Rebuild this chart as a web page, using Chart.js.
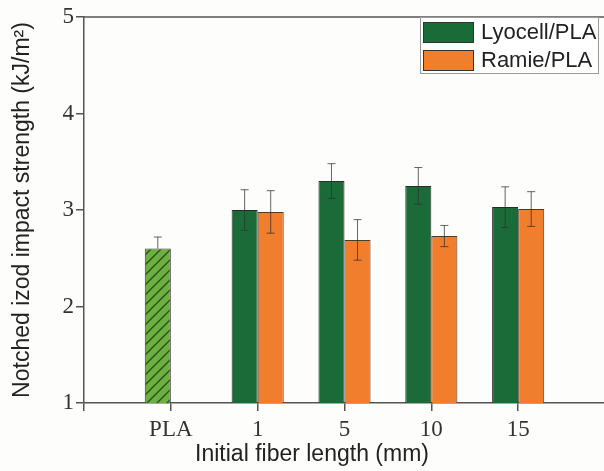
<!DOCTYPE html>
<html>
<head>
<meta charset="utf-8">
<script src="https://cdn.jsdelivr.net/npm/chart.js@4.4.1/dist/chart.umd.min.js"></script>
<style>
  html, body { margin: 0; padding: 0; background: #fdfdfb; overflow: hidden; }
  #wrap { width: 610px; height: 471px; }
</style>
</head>
<body>
<div id="wrap"><canvas id="c" width="610" height="471"></canvas></div>
<script>
// ---- data ----
const categories = ['PLA', '1', '5', '10', '15'];
const fiberLengths = ['1', '5', '10', '15'];
const plaValue = 2.60;
const plaErr = 0.12;
const lyocell = [3.00, 3.30, 3.25, 3.03];
const lyocellErr = [0.21, 0.18, 0.19, 0.21];
const ramie = [2.98, 2.69, 2.73, 3.01];
const ramieErr = [0.22, 0.21, 0.11, 0.18];
const yTicks = [1, 2, 3, 4, 5];
const xTitle = 'Initial fiber length (mm)';
const yTitle = 'Notched izod impact strength (kJ/m\u00B2)';

// axis labels: empty slot on each side of the categories
const axisLabels = [''].concat(categories, ['']);
function place(values, cats) {
  return axisLabels.map(l => { const i = cats.indexOf(l); return (i >= 0 && l !== '') ? values[i] : null; });
}
const plaData = place([plaValue], ['PLA']);
const plaErrData = place([plaErr], ['PLA']);
const lyoData = place(lyocell, fiberLengths);
const lyoErrData = place(lyocellErr, fiberLengths);
const ramData = place(ramie, fiberLengths);
const ramErrData = place(ramieErr, fiberLengths);

// hatch pattern for PLA
function hatch() {
  const s = 10, p = document.createElement('canvas');
  p.width = s; p.height = s;
  const g = p.getContext('2d');
  g.fillStyle = '#6cb13f'; g.fillRect(0, 0, s, s);
  g.strokeStyle = '#2d4d1c'; g.lineWidth = 1.4;
  g.beginPath();
  g.moveTo(0, s); g.lineTo(s, 0);
  g.moveTo(-s/2, s/2); g.lineTo(s/2, -s/2);
  g.moveTo(s/2, s*1.5); g.lineTo(s*1.5, s/2);
  g.stroke();
  return g.createPattern(p, 'repeat');
}

const axisColor = '#555';
const errorBars = {
  id: 'errorBars',
  afterDatasetsDraw(chart) {
    const ctx = chart.ctx, y = chart.scales.y;
    ctx.save();
    chart.data.datasets.forEach((ds, di) => {
      const meta = chart.getDatasetMeta(di);
      ds.errors.forEach((e, i) => {
        const v = ds.data[i];
        if (v == null || e == null) return;
        const bar = meta.data[i];
        const yt = y.getPixelForValue(v + e);
        const yb = y.getPixelForValue(ds.errUpOnly ? v : v - e);
        ctx.strokeStyle = 'rgba(50,50,50,0.75)';
        ctx.lineWidth = 1;
        ctx.beginPath();
        ctx.moveTo(bar.x, yt); ctx.lineTo(bar.x, yb);
        ctx.moveTo(bar.x - 4, yt); ctx.lineTo(bar.x + 4, yt);
        if (!ds.errUpOnly) { ctx.moveTo(bar.x - 4, yb); ctx.lineTo(bar.x + 4, yb); }
        ctx.stroke();
      });
    });
    ctx.restore();
  }
};

const frame = {
  id: 'frame',
  afterDraw(chart) {
    const ctx = chart.ctx, a = chart.chartArea;
    ctx.save();
    ctx.strokeStyle = axisColor; ctx.lineWidth = 1.5;
    ctx.beginPath();
    ctx.moveTo(a.left, a.top); ctx.lineTo(a.right, a.top); ctx.lineTo(a.right, a.bottom);
    ctx.stroke();
    // legend
    const lx = a.right - 185, ly = a.top, lw = 178, lh = 56;
    ctx.fillStyle = '#ffffff';
    ctx.fillRect(lx, ly, lw, lh);
    ctx.strokeStyle = '#9a9a9a'; ctx.lineWidth = 1;
    ctx.strokeRect(lx + 0.5, ly + 0.5, lw, lh);
    const items = chart.data.datasets.filter(d => d.inLegend);
    items.forEach((d, k) => {
      const sy = ly + 5 + k * 28;
      ctx.fillStyle = d.backgroundColor;
      ctx.fillRect(lx + 3, sy, 50, 20);
      ctx.strokeStyle = '#333'; ctx.lineWidth = 1;
      ctx.strokeRect(lx + 3.5, sy + 0.5, 50, 20);
      ctx.fillStyle = '#222';
      ctx.font = '22px "Liberation Sans", Arial, sans-serif';
      ctx.textBaseline = 'middle'; ctx.textAlign = 'left';
      ctx.fillText(d.label, lx + 61, sy + 11);
    });
    // x axis title
    ctx.fillStyle = '#222';
    ctx.font = '23px "Liberation Sans", Arial, sans-serif';
    ctx.textAlign = 'center'; ctx.textBaseline = 'middle';
    ctx.fillText(xTitle, 312, 455);
    ctx.restore();
  }
};

new Chart(document.getElementById('c'), {
  type: 'bar',
  data: {
    labels: axisLabels,
    datasets: [
      { label: 'PLA', data: plaData, errors: plaErrData, errUpOnly: true, stack: 'L',
        backgroundColor: hatch(), borderColor: '#3a3a3a', borderWidth: 1, inLegend: false },
      { label: 'Lyocell/PLA', data: lyoData, errors: lyoErrData, stack: 'L',
        backgroundColor: '#1b6b38', borderColor: '#2a2a2a', borderWidth: 1, inLegend: true },
      { label: 'Ramie/PLA', data: ramData, errors: ramErrData, stack: 'R',
        backgroundColor: '#f07e2c', borderColor: '#4a3a30', borderWidth: 1, inLegend: true }
    ]
  },
  options: {
    responsive: false,
    animation: false,
    devicePixelRatio: 1,
    categoryPercentage: 0.6,
    barPercentage: 1.0,
    layout: { padding: { top: 17, right: 4, left: 0, bottom: 0 } },
    plugins: { legend: { display: false }, tooltip: { enabled: false } },
    scales: {
      x: {
        stacked: true,
        offset: false,
        grid: { offset: false, drawOnChartArea: false, drawTicks: true, tickLength: 8, color: axisColor, lineWidth: 1.5 },
        border: { display: true, color: axisColor, width: 1.5 },
        ticks: { color: '#333', padding: 5, autoSkip: false, maxRotation: 0,
                 font: { family: '"Liberation Serif", "Times New Roman", serif', size: 23 } },
        afterFit(s) { s.height = 68; }
      },
      y: {
        stacked: true,
        min: 1, max: 5,
        afterBuildTicks(s) { s.ticks = yTicks.map(v => ({ value: v })); },
        grid: { drawOnChartArea: false, drawTicks: true, tickLength: 8, color: axisColor, lineWidth: 1.5 },
        border: { display: true, color: axisColor, width: 1.5 },
        ticks: { color: '#333', padding: 2,
                 font: { family: '"Liberation Serif", "Times New Roman", serif', size: 23 } },
        title: { display: true, text: yTitle, color: '#222', padding: { top: 9, bottom: 0 },
                 font: { family: '"Liberation Sans", Arial, sans-serif', size: 23 } },
        afterFit(s) { s.width = 84; }
      }
    }
  },
  plugins: [errorBars, frame]
});
</script>
</body>
</html>
